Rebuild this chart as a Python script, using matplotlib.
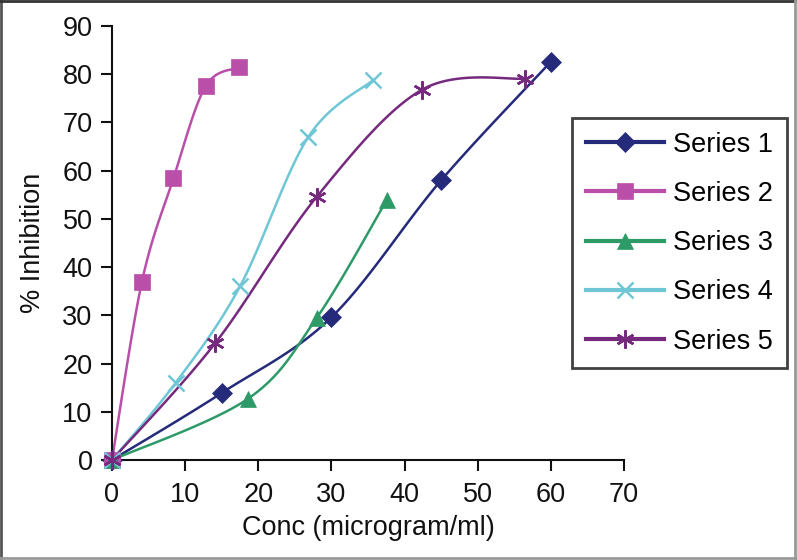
import numpy as np
import matplotlib
matplotlib.use("Agg")
import matplotlib.pyplot as plt
from matplotlib.lines import Line2D

plt.rcParams['font.family'] = ['Liberation Sans', 'DejaVu Sans']

s1_x = [0, 15, 30, 45, 60]
s1_y = [0, 13.9, 29.6, 58, 82.6]
s2_x = [0, 4.1, 8.4, 12.8, 17.4]
s2_y = [0, 37, 58.4, 77.5, 81.4]
s3_x = [0, 18.6, 28, 37.6]
s3_y = [0, 12.7, 29.5, 54]
s4_x = [0, 8.7, 17.5, 26.8, 35.7]
s4_y = [0, 16, 36, 66.9, 78.8]
s5_x = [0, 14.1, 28, 42.4, 56.5]
s5_y = [0, 24.2, 54.6, 76.8, 79.1]

names = ["Series 1", "Series 2", "Series 3", "Series 4", "Series 5"]
colors = ["#252A7A", "#B94FA8", "#2E9A68", "#6FC7D6", "#762A7E"]
markers = ["D", "s", "^", "x", (6, 2, 0)]
msizes = [10, 11, 12, 12, 13]
xticks = [0, 10, 20, 30, 40, 50, 60, 70]
yticks = [0, 10, 20, 30, 40, 50, 60, 70, 80, 90]
FS = 19.5


def smooth(xs, ys, n=30):
    P = np.column_stack([xs, ys]).astype(float)
    out = [P[0]]
    m = len(P)
    for i in range(m - 1):
        p0 = P[i - 1] if i > 0 else P[i]
        p1 = P[i]
        p2 = P[i + 1]
        p3 = P[i + 2] if i + 2 < m else P[i + 1]
        c1 = p1 + (p2 - p0) / 6.0
        c2 = p2 - (p3 - p1) / 6.0
        t = np.linspace(0, 1, n)[1:, None]
        seg = ((1 - t) ** 3) * p1 + 3 * ((1 - t) ** 2) * t * c1 + 3 * (1 - t) * t ** 2 * c2 + t ** 3 * p2
        out.extend(seg)
    out = np.array(out)
    return out[:, 0], out[:, 1]


fig = plt.figure(figsize=(7.97, 5.6), dpi=100)
ax = fig.add_axes([0.1405, 0.1786, 0.783 - 0.1405, 0.9536 - 0.1786])

series = [(s1_x, s1_y), (s2_x, s2_y), (s3_x, s3_y), (s4_x, s4_y), (s5_x, s5_y)]
handles = []
for (xs, ys), name, c, mk, ms in zip(series, names, colors, markers, msizes):
    sx, sy = smooth(xs, ys)
    ax.plot(sx, sy, color=c, lw=1.8, zorder=2, clip_on=False)
    mew = 1.8 if mk in ("x",) or isinstance(mk, tuple) else 0.5
    ax.plot(xs, ys, linestyle='none', marker=mk, ms=ms, color=c, mec=c, mew=mew, zorder=3, clip_on=False)
    h, = ax.plot([], [], color=c, lw=3, marker=mk, ms=ms, mec=c, mew=mew, label=name)
    handles.append(h)

ax.set_xlim(0, 70)
ax.set_ylim(0, 90)
ax.set_xticks(xticks)
ax.set_yticks(yticks)
for sp in ['top', 'right']:
    ax.spines[sp].set_visible(False)
for sp in ['left', 'bottom']:
    ax.spines[sp].set_linewidth(1.5)
    ax.spines[sp].set_color('#111111')
ax.tick_params(direction='out', length=8, width=1.5, labelsize=FS, colors='#111111')
ax.tick_params(axis='x', pad=8)
ax.tick_params(axis='y', pad=6)
ax.set_xlabel("Conc (microgram/ml)", fontsize=FS, labelpad=5, color='#111111')
ax.set_ylabel("% Inhibition", fontsize=FS, labelpad=12, color='#111111')

leg = fig.legend(handles=handles, loc='upper left', bbox_to_anchor=(572 / 797, 1 - 118 / 560),
                 fontsize=FS, frameon=True, fancybox=False, edgecolor='#111111',
                 handlelength=2.9, handletextpad=0.33, labelspacing=0.86, borderpad=0.5,
                 borderaxespad=0)
leg.get_frame().set_linewidth(2)

# figure frame
fig.add_artist(Line2D([0.0015, 0.0015], [0, 1], transform=fig.transFigure, color='#555555', lw=2))
fig.add_artist(Line2D([0, 1], [0.998, 0.998], transform=fig.transFigure, color='#333333', lw=2))
fig.add_artist(Line2D([0.998, 0.998], [0, 1], transform=fig.transFigure, color='#999999', lw=2))
fig.add_artist(Line2D([0, 1], [0.004, 0.004], transform=fig.transFigure, color='#999999', lw=2))

fig.savefig("out.png", dpi=100)
